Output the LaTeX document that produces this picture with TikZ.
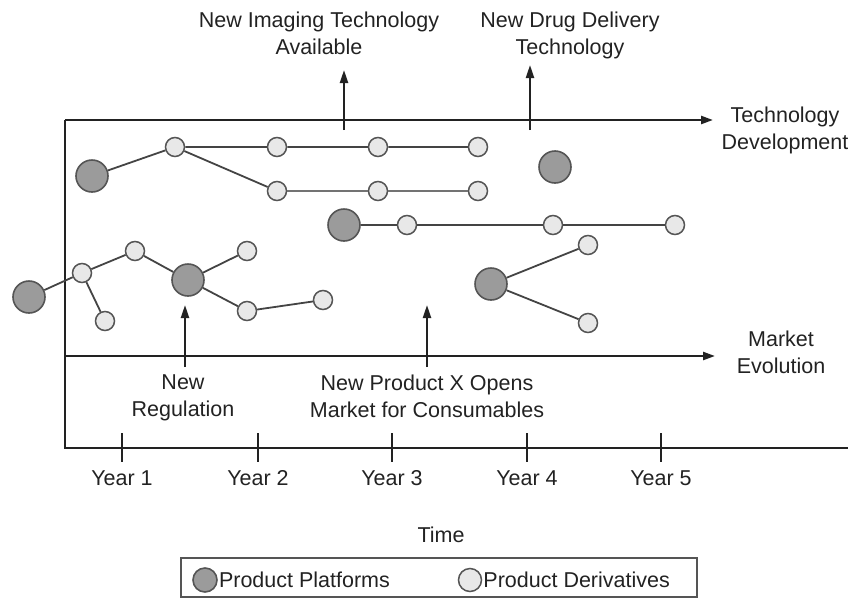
\documentclass[tikz,border=0pt]{standalone}
\usepackage{fontspec}
\setmainfont{Liberation Sans}
\usetikzlibrary{arrows.meta, positioning, calc}
\usepackage{xcolor}

\definecolor{inkgray}{HTML}{222222}
\definecolor{platgray}{HTML}{9B9B9B}
\definecolor{derivgray}{HTML}{E8E8E8}
\definecolor{edgegray}{HTML}{444444}
\definecolor{rimgray}{HTML}{555555}

\tikzset{
  platform/.style={circle, draw=rimgray, fill=platgray, line width=1.6pt, minimum size=32pt, inner sep=0pt},
  deriv/.style={circle, draw=rimgray, fill=derivgray, line width=1.5pt, minimum size=19pt, inner sep=0pt},
  link/.style={draw=edgegray, line width=1.8pt},
  thinlink/.style={draw=edgegray!75, line width=1.3pt},
  axis/.style={draw=inkgray, line width=2.4pt},
  event/.style={draw=inkgray, line width=2.2pt, -{Triangle[length=13pt,width=8pt]}},
  lbl/.style={text=inkgray, inner sep=0pt, align=center, font=\fontsize{21.5}{27}\selectfont},
}

\begin{document}
\begin{tikzpicture}[x=1pt, y=-1pt]
      \useasboundingbox (0,0) rectangle (848,600);

      % frame and axes
      \coordinate (origin) at (65,448);
      \coordinate (techstart) at (65,120);
      \coordinate (techend) at (713,120);
      \coordinate (mktstart) at (65,356);
      \coordinate (mktend) at (715,356);
      \coordinate (timeend) at (848,448);
      \draw[axis] (techstart) -- (origin) -- (timeend);
      \draw[axis, -{Triangle[length=12pt,width=8pt]}] (techstart) -- (techend);
      \draw[axis, -{Triangle[length=12pt,width=8pt]}] (mktstart) -- (mktend);

      \node[lbl, anchor=north] (techlbl) at (785,107) {Technology\\Development};
      \node[lbl, anchor=north] (mktlbl) at (781,331) {Market\\Evolution};

      % years
      \foreach \yr/\xx in {1/122, 2/258, 3/392, 4/527, 5/661} {
        \draw[inkgray, line width=1.8pt] (\xx,433) -- (\xx,462);
        \node[lbl, anchor=base] (year\yr) at (\xx,485) {Year \yr};
      }
      \node[lbl, anchor=base] (timelbl) at (441,542) {Time};

      % technology events
      \coordinate (imgfoot) at (344,130);
      \coordinate (imgtip) at (344,70);
      \coordinate (drugfoot) at (530,130);
      \coordinate (drugtip) at (530,65);
      \draw[event] (imgfoot) -- (imgtip);
      \draw[event] (drugfoot) -- (drugtip);
      \node[lbl, anchor=north] (imglbl) at (319,12) {New Imaging Technology\\Available};
      \node[lbl, anchor=north] (druglbl) at (570,12) {New Drug Delivery\\Technology};

      % market events
      \coordinate (regfoot) at (185,367);
      \coordinate (regtip) at (185,305);
      \coordinate (prodfoot) at (427,367);
      \coordinate (prodtip) at (427,305);
      \draw[event] (regfoot) -- (regtip);
      \draw[event] (prodfoot) -- (prodtip);
      \node[lbl, anchor=north] (reglbl) at (183,375) {New\\Regulation};
      \node[lbl, anchor=north] (prodlbl) at (427,375) {New Product X Opens\\Market for Consumables};

      % platforms and derivatives
      \node[platform] (pA) at (92,176) {};
      \node[deriv] (a1) at (175,147) {};
      \node[deriv] (a2) at (277,147) {};
      \node[deriv] (a3) at (378,147) {};
      \node[deriv] (a4) at (478,147) {};
      \node[deriv] (b1) at (277,191) {};
      \node[deriv] (b2) at (378,191) {};
      \node[deriv] (b3) at (478,191) {};
      \draw[link] (pA) -- (a1) -- (a2) -- (a3) -- (a4);
      \draw[link] (a1) -- (b1);
      \draw[thinlink] (b1) -- (b2) -- (b3);

      \node[platform] (pB) at (555,167) {};

      \node[platform] (pC) at (344,225) {};
      \node[deriv] (c1) at (407,225) {};
      \node[deriv] (c2) at (553,225) {};
      \node[deriv] (c3) at (675,225) {};
      \draw[link] (pC) -- (c1) -- (c2) -- (c3);

      \node[platform] (pD) at (29,297) {};
      \node[deriv] (d1) at (82,273) {};
      \node[deriv] (d2) at (135,251) {};
      \node[deriv] (d3) at (105,321) {};
      \node[platform] (pE) at (188,280) {};
      \node[deriv] (e1) at (247,251) {};
      \node[deriv] (e2) at (247,311) {};
      \node[deriv] (e3) at (323,300) {};
      \draw[link] (pD) -- (d1) -- (d2) -- (pE) -- (e1);
      \draw[link] (d1) -- (d3);
      \draw[link] (pE) -- (e2) -- (e3);

      \node[platform] (pF) at (491,284) {};
      \node[deriv] (f1) at (588,245) {};
      \node[deriv] (f2) at (588,323) {};
      \draw[link] (pF) -- (f1);
      \draw[link] (pF) -- (f2);

      % legend
      \draw[draw=rimgray, line width=1.5pt] (181,558) rectangle (697,597);
      \node[platform, minimum size=24pt] (platkey) at (205,580) {};
      \node[lbl, right=1pt of platkey] (platkeylbl) {Product Platforms};
      \node[deriv, minimum size=23pt] (derivkey) at (470,580) {};
      \node[lbl, right=1pt of derivkey] (derivkeylbl) {Product Derivatives};
\end{tikzpicture}
\end{document}
